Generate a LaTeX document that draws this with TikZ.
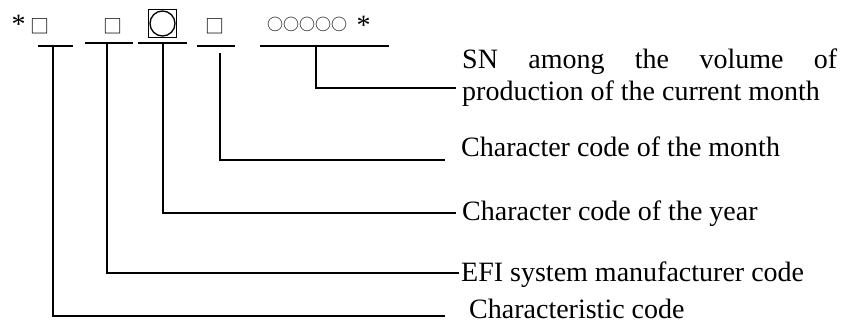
\documentclass[tikz,border=0pt]{standalone}
\usepackage{fontspec}
\setmainfont{Liberation Serif}
\newfontfamily\cjk{Noto Sans CJK SC}
\begin{document}
\begin{tikzpicture}[x=1pt,y=-1pt,
  ln/.style={line width=1.4pt},
  lbl/.style={anchor=base west, inner sep=0pt, font=\fontsize{28}{32}\selectfont},
  sym/.style={inner sep=0pt, font=\cjk\fontsize{19}{19}\selectfont},
  circs/.style={inner sep=0pt, font=\cjk\fontsize{16}{16}\selectfont},
  star/.style={anchor=base, inner sep=0pt, font=\fontsize{28}{32}\selectfont}]
\useasboundingbox (0,0) rectangle (845,324);
% top row
\node[star] (st1) at (18.5,33) {*};
\node[sym] (sq1) at (40,26.5) {□};
\node[sym] (sq2) at (113,26.5) {□};
\node[draw, line width=1.6pt, minimum size=28pt, inner sep=0pt] (yr) at (162.5,23.5) {};
\draw[line width=1.3pt] (yr.center) circle (12.5pt);
\node[sym] (sq3) at (214.5,26) {□};
\node[circs] (circ) at (307,24) {○○○○○};
\node[star] (st2) at (363.5,34) {*};
% underlines
\coordinate (a1) at (38,46);  \coordinate (b1) at (73,46);
\coordinate (a2) at (85,43);  \coordinate (b2) at (133,43);
\coordinate (a3) at (138,43); \coordinate (b3) at (187,43);
\coordinate (a4) at (197,46); \coordinate (b4) at (235,46);
\coordinate (a5) at (260,46); \coordinate (b5) at (389,46);
\foreach \i in {1,...,5} \draw[ln] (a\i) -- (b\i);
% labels
\node[lbl] (sn1) at (462,68) {\makebox[375pt][s]{SN among the volume of}};
\node[lbl] (sn2) at (462,100) {production of the current month};
\node[lbl] (mon) at (461,156) {Character code of the month};
\node[lbl] (yea) at (462,220) {Character code of the year};
\node[lbl] (efi) at (461,281) {EFI system manufacturer code};
\node[lbl] (chr) at (469,318) {Characteristic code};
% connectors
\coordinate (t1) at (53,46);  \coordinate (e1) at (445,316);
\coordinate (t2) at (107,43); \coordinate (e2) at (459,273);
\coordinate (t3) at (163,43); \coordinate (e3) at (456,213);
\coordinate (t4) at (220,53); \coordinate (e4) at (445,160);
\coordinate (t5) at (316,46); \coordinate (e5) at (456,88);
\foreach \i in {1,...,5} \draw[ln] (t\i) |- (e\i);
\end{tikzpicture}
\end{document}
